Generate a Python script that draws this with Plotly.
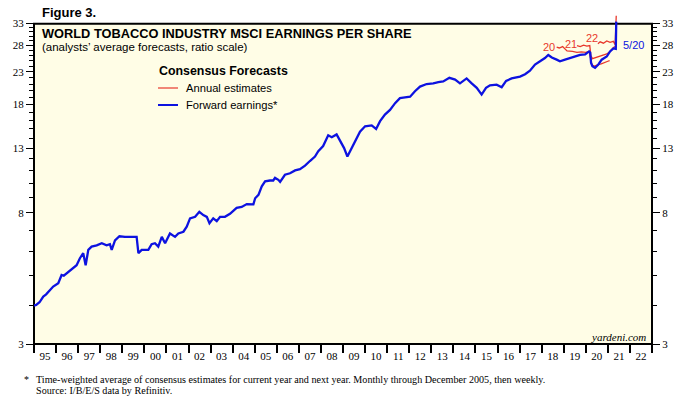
import math
import plotly.graph_objects as go

# ---------------- data ----------------
fwd_x = [1995.00, 1995.10, 1995.25, 1995.42, 1995.55, 1995.65, 1995.87, 1996.10, 1996.25, 1996.35,
         1996.48, 1996.71, 1996.93, 1997.08, 1997.23, 1997.34, 1997.46, 1997.61, 1997.84, 1998.07,
         1998.29, 1998.44, 1998.52, 1998.67, 1998.87, 1999.12, 1999.35, 1999.58, 1999.65, 1999.73,
         1999.88, 2000.18, 2000.33, 2000.48, 2000.63, 2000.79, 2000.94, 2001.16, 2001.39, 2001.54,
         2001.77, 2001.92, 2002.07, 2002.30, 2002.49, 2002.67, 2002.83, 2002.95, 2003.12, 2003.28,
         2003.43, 2003.65, 2003.88, 2004.18, 2004.41, 2004.64, 2004.94, 2005.02, 2005.17, 2005.32,
         2005.47, 2005.69, 2005.84, 2005.92, 2006.07, 2006.15, 2006.37, 2006.60, 2006.83, 2007.05,
         2007.28, 2007.50, 2007.73, 2007.88, 2008.10, 2008.33, 2008.49, 2008.71, 2008.83, 2008.94,
         2009.05, 2009.20, 2009.40, 2009.55, 2009.77, 2010.00, 2010.30, 2010.50, 2010.68, 2010.90,
         2011.13, 2011.36, 2011.58, 2011.81, 2012.04, 2012.26, 2012.49, 2012.79, 2013.09, 2013.32,
         2013.54, 2013.82, 2014.08, 2014.30, 2014.60, 2014.83, 2015.06, 2015.28, 2015.48, 2015.66,
         2015.96, 2016.19, 2016.39, 2016.64, 2016.87, 2017.02, 2017.25, 2017.47, 2017.70, 2017.93,
         2018.15, 2018.30, 2018.46, 2018.68, 2018.83, 2019.06, 2019.29, 2019.51, 2019.74, 2019.97,
         2020.15, 2020.20, 2020.24, 2020.30, 2020.42, 2020.57, 2020.72, 2020.95, 2021.10, 2021.25,
         2021.36, 2021.38]
fwd_y = [4.00, 4.02, 4.10, 4.28, 4.35, 4.44, 4.61, 4.73, 5.03, 5.00,
         5.09, 5.28, 5.41, 5.70, 5.92, 5.41, 6.07, 6.22, 6.28, 6.38,
         6.28, 6.33, 6.07, 6.52, 6.72, 6.69, 6.69, 6.72, 6.69, 5.92,
         6.07, 6.07, 6.33, 6.38, 6.22, 6.69, 6.38, 6.86, 6.69, 6.86,
         6.95, 7.22, 7.68, 7.77, 8.07, 7.87, 7.77, 7.41, 7.68, 7.52,
         7.77, 7.77, 7.95, 8.31, 8.37, 8.55, 8.53, 8.93, 9.16, 9.77,
         10.14, 10.20, 10.20, 10.40, 10.25, 10.10, 10.65, 10.77, 11.00, 11.10,
         11.40, 11.80, 12.20, 12.70, 13.20, 14.30, 14.10, 14.40, 13.90, 13.50,
         13.00, 12.20, 13.00, 13.70, 14.70, 15.30, 15.40, 15.00, 15.90, 16.70,
         17.30, 18.20, 18.90, 19.00, 19.10, 19.90, 20.60, 21.00, 21.10, 21.30,
         21.40, 22.00, 21.70, 21.10, 21.90, 21.10, 20.40, 19.40, 20.40, 20.80,
         20.90, 20.50, 21.50, 21.90, 22.10, 22.20, 22.60, 23.20, 24.30, 24.90,
         25.50, 26.10, 25.60, 25.20, 24.90, 25.20, 25.50, 25.80, 26.10, 26.20,
         26.80, 26.60, 24.60, 24.00, 23.70, 24.30, 25.20, 25.80, 26.80, 27.40,
         27.30, 33.50]

est20_x = [2018.68, 2018.80, 2018.95, 2019.06, 2019.15, 2019.40, 2019.60, 2019.80, 2020.00, 2020.15,
           2020.22, 2020.28, 2020.40, 2020.55, 2020.70, 2020.85, 2021.00, 2021.08]
est20_y = [27.7, 27.5, 27.8, 27.4, 26.9, 26.8, 26.6, 26.7, 26.6, 26.8,
           25.5, 24.2, 24.0, 24.3, 24.4, 24.7, 24.9, 25.0]

est21_x = [2019.60, 2019.75, 2019.90, 2020.05, 2020.18, 2020.23, 2020.30, 2020.45, 2020.60, 2020.75,
           2020.95, 2021.10, 2021.25, 2021.38]
est21_y = [28.0, 27.8, 28.1, 27.9, 28.0, 26.0, 25.4, 25.6, 25.8, 26.0,
           26.3, 26.8, 27.6, 27.9]

est22_x = [2020.55, 2020.65, 2020.80, 2020.95, 2021.10, 2021.25, 2021.33, 2021.38]
est22_y = [28.4, 28.8, 28.5, 29.0, 28.7, 28.9, 28.2, 35.0]

year_ticks = list(range(1995, 2024))
year_labels = ["95", "96", "97", "98", "99", "00", "01", "02", "03", "04", "05", "06", "07", "08",
               "09", "10", "11", "12", "13", "14", "15", "16", "17", "18", "19", "20", "21", "22"]
y_major = [3, 8, 13, 18, 23, 28, 33]
y_minor = [v for v in range(4, 33) if v not in y_major]

est_labels = ["20", "21", "22"]
est_label_pos = [(2018.35, 27.7), (2019.33, 28.3), (2020.28, 29.7)]
last_label = "5/20"

# ---------------- layout constants ----------------
W, H = 690, 401
L, R, T, B = 34, 38, 12, 57
PW, PH = W - L - R, H - T - B
Y_LO, Y_HI, Y_TOP = 3, 36, 33

RED = "#e8382c"
BLUE = "#0d12e0"
CREAM = "#fffde6"
SANS = "Liberation Sans, Arial, sans-serif"
SERIF = "Liberation Serif, Times New Roman, serif"


def px(xp):
    return (xp - L) / PW


def py(yp):
    return (H - B - yp) / PH


frame_top = math.log10(Y_TOP / Y_LO) / math.log10(Y_HI / Y_LO)

fig = go.Figure()
for ex, ey in [(est20_x, est20_y), (est21_x, est21_y), (est22_x, est22_y)]:
    fig.add_trace(go.Scatter(x=ex, y=ey, mode="lines", line=dict(color=RED, width=1.3),
                             hoverinfo="skip", showlegend=False))
fig.add_trace(go.Scatter(x=fwd_x, y=fwd_y, mode="lines", line=dict(color=BLUE, width=2.3),
                         showlegend=False))
# invisible trace for the right-hand axis
fig.add_trace(go.Scatter(x=[fwd_x[0]], y=[fwd_y[0]], yaxis="y2", mode="lines",
                         line=dict(width=0), hoverinfo="skip", showlegend=False))

yaxis_common = dict(
    type="log",
    range=[math.log10(Y_LO), math.log10(Y_HI)],
    tickvals=y_major,
    ticktext=[str(v) for v in y_major],
    ticks="outside", ticklen=7, tickwidth=1, tickcolor="black",
    minor=dict(tickvals=y_minor, ticks="outside", ticklen=4, tickwidth=1, tickcolor="black"),
    showgrid=False, zeroline=False, showline=False,
    tickfont=dict(family=SERIF, size=11, color="black"),
)

fig.update_layout(
    width=W, height=H,
    margin=dict(l=L, r=R, t=T, b=B, pad=0),
    paper_bgcolor="white", plot_bgcolor="rgba(0,0,0,0)",
    showlegend=False,
    xaxis=dict(
        range=[1995, 2023],
        tickvals=[y + 0.5 for y in year_ticks[:-1]],
        ticktext=year_labels,
        ticks="outside", ticklen=2, tickcolor="rgba(0,0,0,0)",
        minor=dict(tickvals=year_ticks, ticks="outside", ticklen=8, tickwidth=2, tickcolor="black"),
        showgrid=False, zeroline=False, showline=False,
        tickfont=dict(family=SERIF, size=11, color="black"),
    ),
    yaxis=dict(side="left", **yaxis_common),
    yaxis2=dict(side="right", overlaying="y", **yaxis_common),
    shapes=[
        dict(type="rect", xref="paper", yref="paper", x0=0, x1=1, y0=0, y1=frame_top,
             fillcolor=CREAM, line=dict(color="black", width=2), layer="below"),
        dict(type="line", xref="paper", yref="paper", x0=px(158), x1=px(178), y0=py(88), y1=py(88),
             line=dict(color=RED, width=1.2)),
        dict(type="line", xref="paper", yref="paper", x0=px(158), x1=px(178), y0=py(105), y1=py(105),
             line=dict(color=BLUE, width=2)),
    ],
)

ann = []


def txt(text, x, y, size, family=SANS, color="black", xanchor="left", bold=False, italic=False,
        xref="paper", yref="paper"):
    if bold:
        text = "<b>" + text + "</b>"
    if italic:
        text = "<i>" + text + "</i>"
    ann.append(dict(text=text, x=x, y=y, xref=xref, yref=yref, xanchor=xanchor, yanchor="middle",
                    showarrow=False, font=dict(family=family, size=size, color=color)))


txt("Figure 3.", px(40), py(12), 13, bold=True)
txt("WORLD TOBACCO INDUSTRY MSCI EARNINGS PER SHARE", px(40), py(33), 12.8, bold=True)
txt("(analysts\u2019 average forecasts, ratio scale)", px(40), py(47), 11.5)
txt("Consensus Forecasts", px(157), py(71), 12.4, bold=True)
txt("Annual estimates", px(184), py(88), 11.2)
txt("Forward earnings*", px(184), py(105), 11.2)
txt("yardeni.com", px(648), py(337), 11, family=SERIF, xanchor="right", italic=True)
txt("*", px(22), py(379), 10, family=SERIF)
txt("Time-weighted average of consensus estimates for current year and next year. "
    "Monthly through December 2005, then weekly.", px(34), py(379), 10.15, family=SERIF)
txt("Source: I/B/E/S data by Refinitiv.", px(34), py(390), 10.15, family=SERIF)

for lab, (lx, ly) in zip(est_labels, est_label_pos):
    txt(lab, lx, math.log10(ly), 11, color=RED, xanchor="center", xref="x", yref="y")
txt(last_label, 2022.15, math.log10(28.2), 11, color=BLUE, xanchor="center", xref="x", yref="y")

fig.update_layout(annotations=ann)
fig.write_html("out.html", config={"displayModeBar": False},
               post_script="document.body.style.margin='0px';")
